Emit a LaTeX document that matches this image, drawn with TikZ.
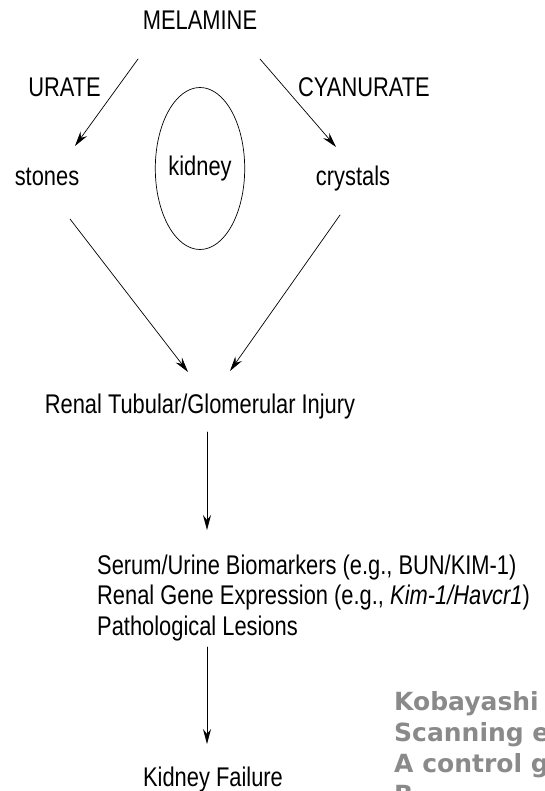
\documentclass[tikz,border=0pt]{standalone}
\usepackage{fontspec}
\setmainfont{Liberation Sans}[FakeStretch=0.81]
\newfontfamily\notefont{DejaVu Sans}
\usetikzlibrary{arrows.meta, shapes.geometric}
\definecolor{notegray}{RGB}{138,138,138}

\begin{document}
\begin{tikzpicture}[x=1pt, y=-1pt, >={Stealth[length=15pt, width=8pt, inset=5pt]}, line join=round, line cap=round,
		font=\fontsize{27}{30}\selectfont,
		lbl/.style={inner sep=0pt, anchor=base},
		flow/.style={->, line width=0.7pt},
		note/.style={inner sep=0pt, anchor=base west, text=notegray, font=\notefont\bfseries\fontsize{25}{31}\selectfont}]
		% Page frame
		\useasboundingbox (0,0) rectangle (544,791);
		\clip (0,0) rectangle (544,791);
		% Melamine and its two routes
		\node[lbl] (mel) at (200,30) {MELAMINE};
		\node[lbl] (urate) at (64.5,97) {URATE};
		\node[lbl] (cyan) at (364,97) {CYANURATE};
		\node[lbl] (stones) at (47,186) {stones};
		\node[lbl] (crystals) at (353,186) {crystals};
		\node[draw, ellipse, line width=0.7pt, minimum width=89pt, minimum height=162pt, inner sep=0pt] (kidney) at (200,168.5) {kidney};
		\draw[flow] ([shift={(-62,29)}]mel.base) -- ([shift={(28,-40)}]stones.base);
		\draw[flow] ([shift={(60,29)}]mel.base) -- ([shift={(-17,-39)}]crystals.base);
		% Injury and its effects
		\node[lbl] (injury) at (200,413) {Renal Tubular/Glomerular Injury};
		\draw[flow] ([shift={(23,33)}]stones.base) -- ([shift={(-12,-41)}]injury.base);
		\draw[flow] ([shift={(-13,29)}]crystals.base) -- ([shift={(30,-42)}]injury.base);
		\node[lbl, anchor=base west] (serum) at (97,574) {Serum/Urine Biomarkers (e.g., BUN/KIM-1)};
		\node[lbl, anchor=base west] (gene) at (97,604.5) {Renal Gene Expression (e.g., \textit{Kim-1/Havcr1})};
		\node[lbl, anchor=base west] (lesions) at (97,635) {Pathological Lesions};
		\draw[flow] ([shift={(7,19)}]injury.base) -- ([shift={(110,-44)}]serum.base west);
		\node[lbl] (failure) at (213,786) {Kidney Failure};
		\draw[flow] ([shift={(110,12)}]lesions.base west) -- ([shift={(-6,-42)}]failure.base);
		% Grey text cut by the page edge
		\node[note] (note1) at (394,710) {Kobayashi};
		\node[note] (note2) at (394,741) {Scanning e};
		\node[note] (note3) at (394,772) {A control g};
		\node[note] (note4) at (394,803) {B};
	\end{tikzpicture}
\end{document}
